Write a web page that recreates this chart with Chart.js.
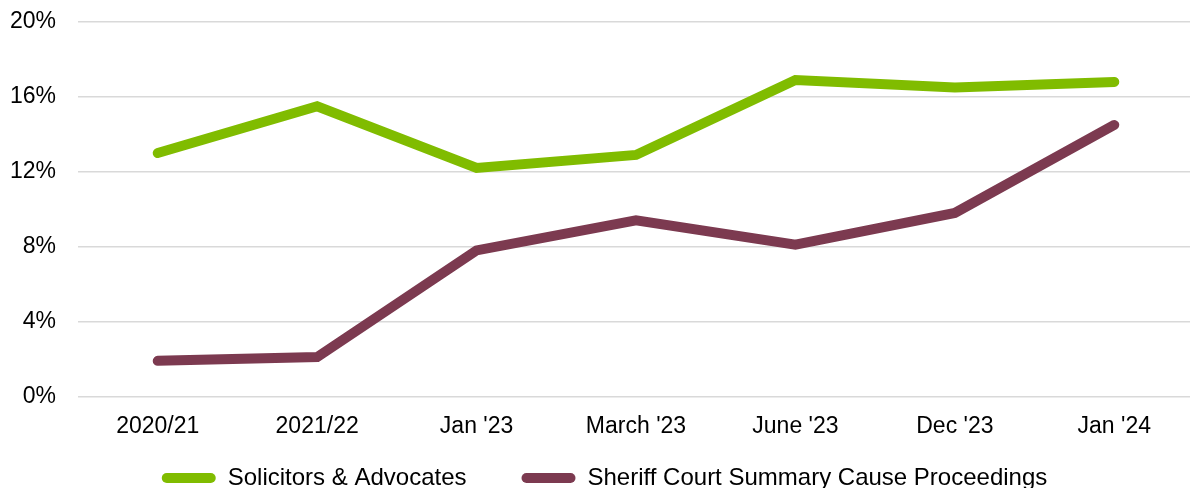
<!DOCTYPE html>
<html>
<head>
<meta charset="utf-8">
<script src="https://cdn.jsdelivr.net/npm/chart.js@4/dist/chart.umd.min.js"></script>
<style>
  html, body { margin: 0; padding: 0; overflow: hidden; background: #fff; }
  #wrap { width: 1194px; height: 500px; position: relative; }
</style>
</head>
<body>
<div id="wrap"><canvas id="c"></canvas></div>
<script>
const categories = ["2020/21", "2021/22", "Jan '23", "March '23", "June '23", "Dec '23", "Jan '24"];
const solicitors = [13.0, 15.5, 12.2, 12.9, 16.9, 16.5, 16.8];
const sheriffCourt = [1.9, 2.1, 7.8, 9.4, 8.1, 9.8, 14.5];
const yTicks = [0, 4, 8, 12, 16, 20];

const FONT = "'Liberation Sans', Arial, sans-serif";
const LEGEND_SHIFT = 37;
const LEGEND_DX = 3;

// Keep the legend's horizontal spacing while reserving less vertical room for it.
const legendTweak = {
  id: 'legendTweak',
  afterInit(chart) {
    const lg = chart.legend;
    if (!lg) return;
    const fit = lg.fit;
    lg.fit = function () { fit.call(this); this.height -= LEGEND_SHIFT; };
    const draw = lg.draw;
    lg.draw = function () {
      this.top -= LEGEND_SHIFT;
      this.left += LEGEND_DX;
      this.right += LEGEND_DX;
      draw.call(this);
      this.top += LEGEND_SHIFT;
      this.left -= LEGEND_DX;
      this.right -= LEGEND_DX;
    };
  }
};

new Chart(document.getElementById('c'), {
  type: 'line',
  data: {
    labels: categories,
    datasets: [
      {
        label: 'Solicitors & Advocates',
        data: solicitors,
        borderColor: '#80BC00',
        backgroundColor: '#80BC00',
        borderWidth: 10,
        borderCapStyle: 'round',
        borderJoinStyle: 'miter',
        pointRadius: 0,
        tension: 0
      },
      {
        label: 'Sheriff Court Summary Cause Proceedings',
        data: sheriffCourt,
        borderColor: '#7C3A50',
        backgroundColor: '#7C3A50',
        borderWidth: 10,
        borderCapStyle: 'round',
        borderJoinStyle: 'miter',
        pointRadius: 0,
        tension: 0
      }
    ]
  },
  plugins: [legendTweak],
  options: {
    responsive: true,
    maintainAspectRatio: false,
    animation: false,
    devicePixelRatio: 1,
    layout: { padding: { left: 9, right: 0, top: 22, bottom: 0 } },
    plugins: {
      tooltip: { enabled: false },
      legend: {
        position: 'bottom',
        labels: {
          font: { family: FONT, size: 24 },
          color: '#000',
          boxWidth: 54,
          boxHeight: 10,
          useBorderRadius: true,
          borderRadius: 5,
          padding: 55,
          generateLabels(chart) {
            return chart.data.datasets.map((ds, i) => ({
              text: ds.label,
              fillStyle: ds.borderColor,
              strokeStyle: ds.borderColor,
              lineWidth: 0,
              borderRadius: 5,
              datasetIndex: i,
              hidden: false,
              fontColor: '#000'
            }));
          }
        }
      }
    },
    scales: {
      x: {
        offset: true,
        grid: { display: false },
        border: { display: false },
        ticks: {
          font: { family: FONT, size: 23 },
          color: '#000',
          padding: 8,
          maxRotation: 0,
          autoSkip: false
        }
      },
      y: {
        min: 0,
        max: 20,
        afterFit(scale) {
          scale.width = 69;
          scale.paddingTop = 0;
          scale.paddingBottom = 0;
        },
        afterBuildTicks(scale) { scale.ticks = yTicks.map(v => ({ value: v })); },
        grid: { color: '#D9D9D9', lineWidth: 1.5, drawTicks: false },
        border: { display: false },
        ticks: {
          font: { family: FONT, size: 23 },
          color: '#000',
          padding: 22,
          callback: v => v + '%'
        }
      }
    }
  }
});
</script>
</body>
</html>
